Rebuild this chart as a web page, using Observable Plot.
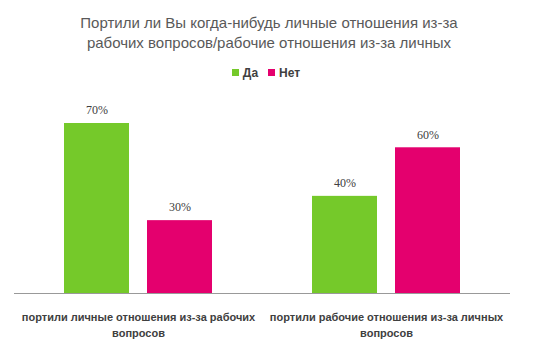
<!DOCTYPE html>
<html><head><meta charset="utf-8">
<script src="https://cdn.jsdelivr.net/npm/d3@7"></script>
<script src="https://cdn.jsdelivr.net/npm/@observablehq/plot@0.6"></script>
<style>
body{margin:0;background:#fff;width:538px;height:357px;overflow:hidden;font-family:"Liberation Sans",sans-serif;}
#title{height:56px;padding-top:13px;box-sizing:border-box;text-align:center;color:#595959;font-size:15px;line-height:20px;}
#legend{height:33px;display:flex;justify-content:center;align-items:center;gap:10px;font-size:12px;font-weight:bold;color:#404040;padding-right:6px;box-sizing:border-box;}
#legend span.sw{display:inline-block;width:7px;height:7px;margin-right:4px;vertical-align:1px;}
</style></head>
<body>
<div id="title">Портили ли Вы когда-нибудь личные отношения из-за<br>рабочих вопросов/рабочие отношения из-за личных</div>
<div id="legend"></div>
<div id="chart"></div>
<script>
const categories = ["портили личные отношения из-за рабочих вопросов", "портили рабочие отношения из-за личных вопросов"];
const tickLabels = ["портили личные отношения из-за рабочих\nвопросов", "портили рабочие отношения из-за личных\nвопросов"];
const series = ["Да", "Нет"];
const daValues = [0.70, 0.40];
const netValues = [0.30, 0.60];
const colors = ["#75C92A", "#E4006E"];

const data = [];
categories.forEach((c, i) => {
  data.push({category: c, series: series[0], value: daValues[i]});
  data.push({category: c, series: series[1], value: netValues[i]});
});

const legend = document.getElementById("legend");
series.forEach((s, i) => {
  const el = document.createElement("div");
  el.innerHTML = `<span class="sw" style="background:${colors[i]}"></span>${s}`;
  legend.appendChild(el);
});

const chart = Plot.plot({
  width: 538,
  height: 268,
  marginLeft: 13,
  marginRight: 28,
  marginTop: 34,
  marginBottom: 64,
  style: {fontFamily: "Liberation Sans, sans-serif", background: "#fff"},
  fx: {domain: categories, padding: 0, label: null},
  x: {domain: series, paddingInner: 0.22, paddingOuter: 0.6, axis: null},
  y: {domain: [0, 0.7], axis: null},
  color: {domain: series, range: colors},
  marks: [
    Plot.barY(data, {fx: "category", x: "series", y: "value", fill: "series"}),
    Plot.text(data, {fx: "category", x: "series", y: "value", text: d => Math.round(d.value * 100) + "%", dy: -13, fontFamily: "Liberation Serif, serif", fontSize: 12, fill: "#404040"}),
    Plot.ruleY([0], {stroke: "#999", strokeWidth: 1}),
    Plot.axisFx({anchor: "bottom", tickSize: 0, tickPadding: 16, label: null, tickFormat: d => tickLabels[categories.indexOf(d)], fontSize: 11, fontWeight: "bold", fill: "#404040", lineHeight: 1.45})
  ]
});
document.getElementById("chart").appendChild(chart);
</script>
</body></html>
